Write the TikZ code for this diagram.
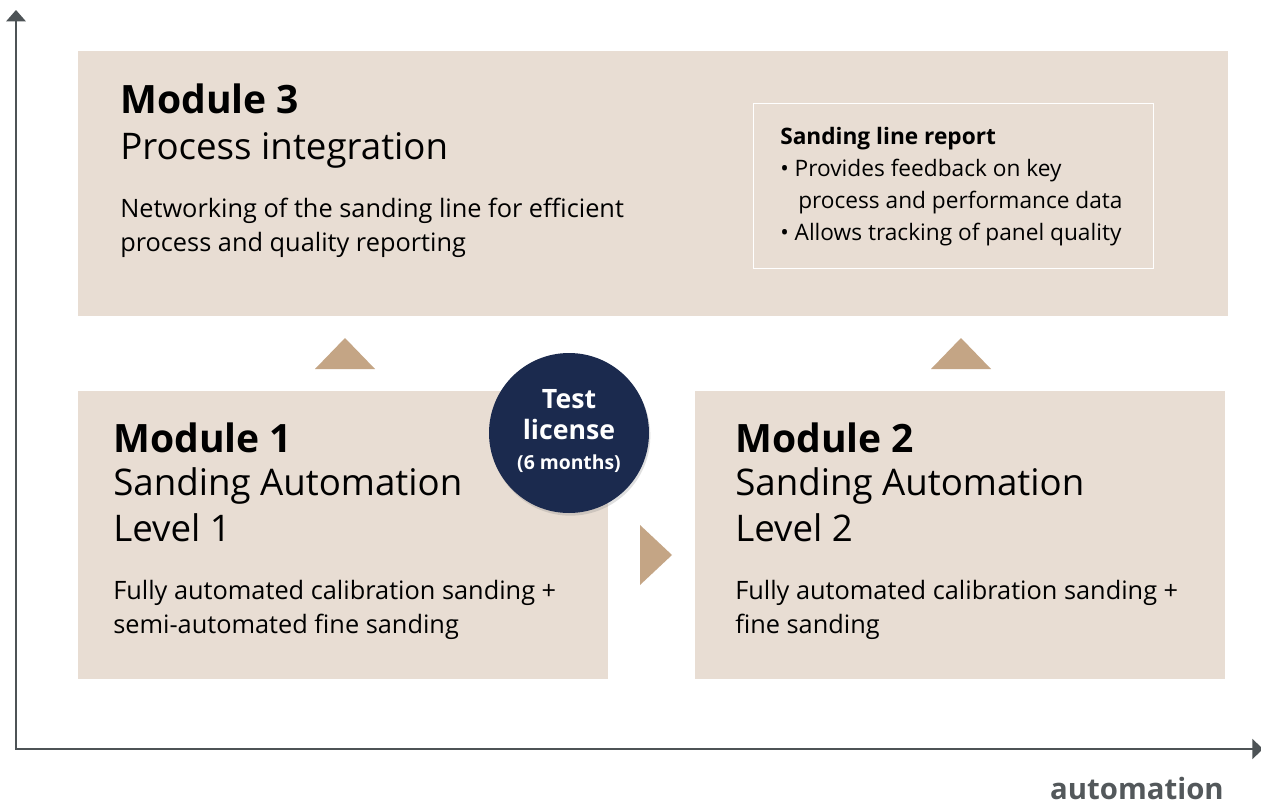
\documentclass[tikz,border=0pt]{standalone}
\usepackage{fontspec}
\setmainfont{Open Sans}
\usetikzlibrary{arrows.meta,shadows}
\definecolor{boxfill}{HTML}{E8DDD3}
\definecolor{tri}{HTML}{C4A585}
\definecolor{navy}{HTML}{1B2A4E}
\definecolor{axisc}{HTML}{4D5356}
\definecolor{autoc}{HTML}{53585B}
\tikzset{
  modbox/.style={fill=boxfill, draw=none, inner sep=0pt},
  txt/.style={anchor=base west, inner sep=0pt, text=black},
  headf/.style={font=\fontsize{29.3}{34}\selectfont\bfseries},
  subf/.style={font=\fontsize{27.5}{34}\selectfont},
  bodyf/.style={font=\fontsize{19}{24}\selectfont},
  repf/.style={font=\fontsize{17}{22}\selectfont},
  axisline/.style={draw=axisc, line width=1.5pt},
  tritip/.style={fill=tri, draw=none},
}
\begin{document}
\begin{tikzpicture}[x=0.75pt,y=-0.75pt]
\useasboundingbox[fill=white] (0,0) rectangle (1261,803);
% axes
\coordinate (origin) at (16,749);
\coordinate (ytip) at (16,10);
\coordinate (xtip) at (1263,749);
\draw[axisline, {Triangle[width=14.5pt,length=8.5pt]}-{Triangle[width=15pt,length=8pt]}] (ytip) -- (origin) -- (xtip);
\node[anchor=base east, inner sep=0pt, text=autoc, font=\fontsize{22}{26}\selectfont\bfseries] (auto) at (1224,799) {automation};
% boxes
\node[modbox, minimum width=862.5pt, minimum height=198.75pt] (m3) at (653,183.5) {};
\node[modbox, minimum width=397.5pt, minimum height=216pt] (m1) at (343,535) {};
\node[modbox, minimum width=397.5pt, minimum height=216pt] (m2) at (960,535) {};
\node[draw=white, line width=0.75pt, minimum width=300pt, minimum height=123.75pt, inner sep=0pt] (rep) at (953,185.5) {};
% triangles
\fill[tritip] (315,369) -- (375,369) -- (345,338) -- cycle;
\fill[tritip] (931,369) -- (991,369) -- (961,338) -- cycle;
\fill[tritip] (640,525) -- (640,585) -- (672,555) -- cycle;
% Module 3 texts
\node[txt, headf] (m3h) at (120,113) {Module 3};
\node[txt, subf] (m3s) at (120,159) {Process integration};
\node[txt, bodyf] (m3b1) at (120,217) {Networking of the sanding line for efficient};
\node[txt, bodyf] (m3b2) at (120,251) {process and quality reporting};
% report
\node[txt, font=\fontsize{17}{22}\selectfont\bfseries] (r0) at (780,144) {Sanding line report};
\node[txt, repf] (r1) at (780,176) {•\ Provides feedback on key};
\node[txt, repf] (r2) at (798,208) {process and performance data};
\node[txt, repf] (r3) at (780,240) {•\ Allows tracking of panel quality};
% Module 1
\node[txt, headf] (m1h) at (113,452) {Module 1};
\node[txt, subf] (m1s) at (113,495) {Sanding Automation};
\node[txt, subf] (m1l) at (113,541) {Level 1};
\node[txt, bodyf] (m1b1) at (113,599) {Fully automated calibration sanding +};
\node[txt, bodyf] (m1b2) at (113,633) {semi-automated fine sanding};
% Module 2
\node[txt, headf] (m2h) at (735,452) {Module 2};
\node[txt, subf] (m2s) at (735,495) {Sanding Automation};
\node[txt, subf] (m2l) at (735,541) {Level 2};
\node[txt, bodyf] (m2b1) at (735,599) {Fully automated calibration sanding +};
\node[txt, bodyf] (m2b2) at (735,633) {fine sanding};
% circle
\node[circle, fill=navy, minimum size=120pt, inner sep=0pt,
  drop shadow={opacity=0.25, shadow xshift=1pt, shadow yshift=-2pt}] (tl) at (569,433) {};
\node[anchor=base, inner sep=0pt, text=white, font=\fontsize{20}{24}\selectfont\bfseries] (tl1) at (569,408) {Test};
\node[anchor=base, inner sep=0pt, text=white, font=\fontsize{20}{24}\selectfont\bfseries] (tl2) at (569,439) {license};
\node[anchor=base, inner sep=0pt, text=white, font=\fontsize{14.5}{18}\selectfont\bfseries] (tl3) at (569,469) {(6 months)};
\end{tikzpicture}
\end{document}
